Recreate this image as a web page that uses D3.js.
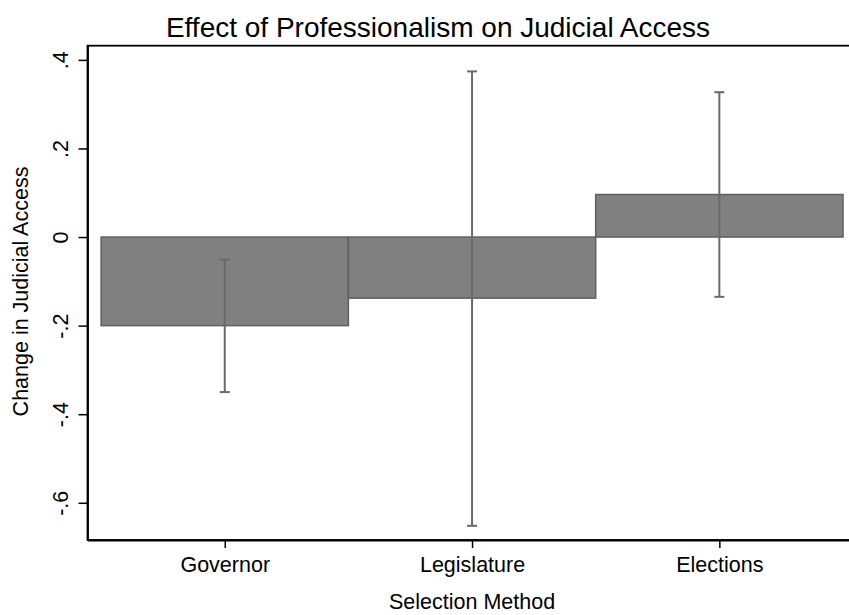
<!DOCTYPE html>
<html>
<head>
<meta charset="utf-8">
<script src="https://cdn.jsdelivr.net/npm/d3@7"></script>
<style>
  html, body { margin: 0; padding: 0; background: #fff; }
  svg { display: block; font-family: "Liberation Sans", Arial, Helvetica, sans-serif; }
</style>
</head>
<body>
<svg id="chart" width="849" height="615"></svg>
<script>
// Selection methods and estimated change (with 95% interval)
const categories = ["Governor", "Legislature", "Elections"];
const effects = [-0.200, -0.138, 0.096];
const lowerCI = [-0.350, -0.652, -0.135];
const upperCI = [-0.051, 0.374, 0.327];
const yTicks = [0.4, 0.2, 0, -0.2, -0.4, -0.6];

const svg = d3.select("#chart");
const plot = { left: 87.5, top: 45.7, right: 856.6, bottom: 540 };

// category i sits at position i+1, each bar one unit wide
const x = d3.scaleLinear().domain([0.445, 3.555]).range([plot.left, plot.right]);
const y = d3.scaleLinear().domain([-0.684, 0.432]).range([plot.bottom, plot.top]);

// ".4", "0", "-.2" style labels
const fmt = v => {
  if (Math.abs(v) < 1e-9) return "0";
  const s = Math.abs(v).toFixed(1).replace(/^0/, "");
  return (v < 0 ? "-" : "") + s;
};

// bars from zero to the estimate
svg.append("g").selectAll("rect")
  .data(effects)
  .join("rect")
  .attr("x", (d, i) => x(i + 0.5))
  .attr("width", (d, i) => x(i + 1.5) - x(i + 0.5))
  .attr("y", d => Math.min(y(d), y(0)))
  .attr("height", d => Math.abs(y(d) - y(0)))
  .attr("fill", "#808080")
  .attr("stroke", "#5f5f5f")
  .attr("stroke-width", 1.5);

// interval whiskers
const capHalf = 5;
const eb = svg.append("g").attr("stroke", "#6a6a6a").attr("stroke-width", 2);
categories.forEach((c, i) => {
  const cx = x(i + 1);
  eb.append("line").attr("x1", cx).attr("x2", cx).attr("y1", y(lowerCI[i])).attr("y2", y(upperCI[i]));
  eb.append("line").attr("x1", cx - capHalf).attr("x2", cx + capHalf).attr("y1", y(lowerCI[i])).attr("y2", y(lowerCI[i]));
  eb.append("line").attr("x1", cx - capHalf).attr("x2", cx + capHalf).attr("y1", y(upperCI[i])).attr("y2", y(upperCI[i]));
});

// plot region frame
svg.append("rect")
  .attr("x", plot.left).attr("y", plot.top)
  .attr("width", plot.right - plot.left).attr("height", plot.bottom - plot.top)
  .attr("fill", "none").attr("stroke", "#000").attr("stroke-width", 1.8);

// y axis
const yAxis = d3.axisLeft(y).tickValues(yTicks).tickSize(9).tickSizeOuter(0).tickFormat(fmt);
const gy = svg.append("g").attr("transform", `translate(${plot.left},0)`).call(yAxis);
gy.select(".domain").attr("stroke", "#000").attr("stroke-width", 1.8);
gy.selectAll(".tick line").attr("stroke", "#000").attr("stroke-width", 1.5);
gy.selectAll(".tick text")
  .attr("font-size", 21.5).attr("fill", "#000")
  .attr("text-anchor", "middle")
  .attr("x", 0).attr("dy", 0)
  .attr("transform", "translate(-19.5,0) rotate(-90)");

// x axis
const xAxis = d3.axisBottom(x).tickValues([1, 2, 3]).tickSize(8).tickSizeOuter(0).tickFormat((d, i) => categories[i]);
const gx = svg.append("g").attr("transform", `translate(0,${plot.bottom})`).call(xAxis);
gx.select(".domain").attr("stroke", "#000").attr("stroke-width", 1.8);
gx.selectAll(".tick line").attr("stroke", "#000").attr("stroke-width", 1.5);
gx.selectAll(".tick text").attr("font-size", 21.5).attr("fill", "#000").attr("y", 17).attr("dy", "0.71em");

// titles
svg.append("text")
  .attr("x", 438).attr("y", 37)
  .attr("text-anchor", "middle").attr("font-size", 28).attr("fill", "#000")
  .text("Effect of Professionalism on Judicial Access");

svg.append("text")
  .attr("x", (plot.left + plot.right) / 2).attr("y", 609)
  .attr("text-anchor", "middle").attr("font-size", 21.5).attr("fill", "#000")
  .text("Selection Method");

svg.append("text")
  .attr("transform", `translate(28,${(163 + 420) / 2}) rotate(-90)`)
  .attr("text-anchor", "middle").attr("font-size", 21.5).attr("fill", "#000")
  .text("Change in Judicial Access");
</script>
</body>
</html>
